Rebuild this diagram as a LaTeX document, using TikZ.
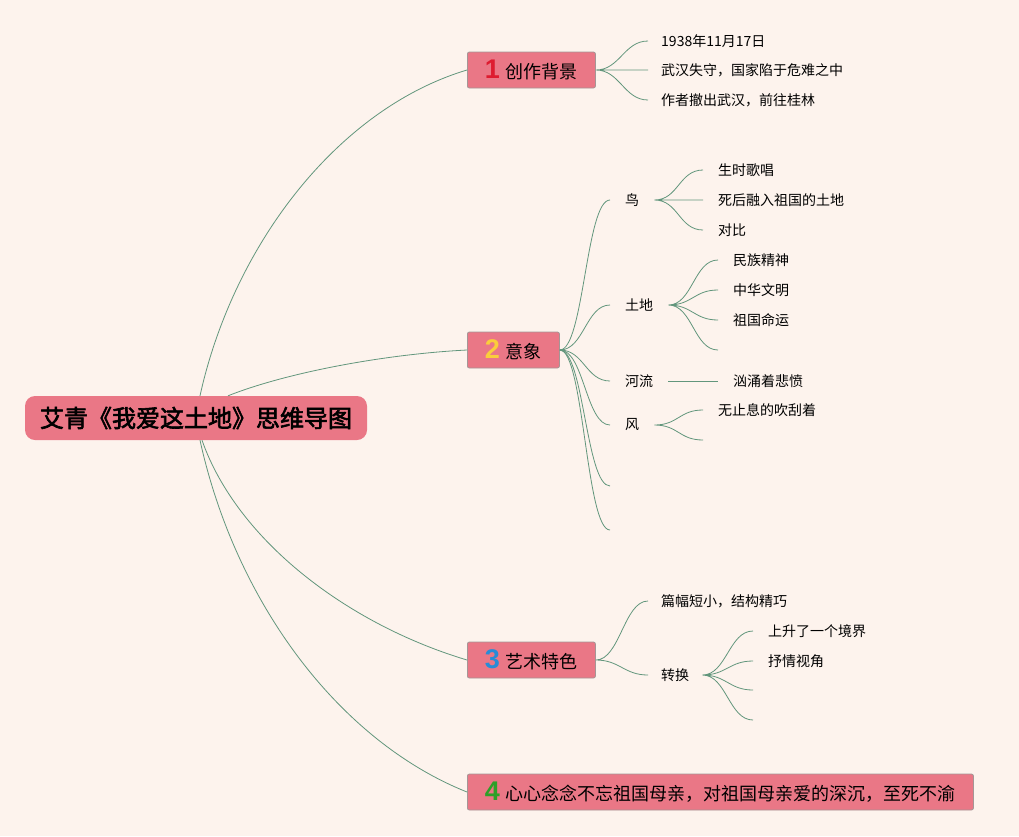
\documentclass[tikz,border=0pt]{standalone}
\usepackage{fontspec}
\usepackage{xcolor}
\usepackage{tikz}
\usetikzlibrary{positioning}
\setmainfont{Noto Sans CJK SC}
\newfontfamily\rootfont[FakeBold=2.5]{Noto Sans CJK SC}
\newfontfamily\numfont{Liberation Sans}
\definecolor{paper}{RGB}{253,243,237}
\definecolor{rosefill}{RGB}{234,119,134}
\definecolor{roseedge}{RGB}{165,150,150}
\definecolor{twigc}{RGB}{98,150,124}
\definecolor{numred}{RGB}{222,28,48}
\definecolor{numyellow}{RGB}{250,205,60}
\definecolor{numblue}{RGB}{40,140,215}
\definecolor{numgreen}{RGB}{45,160,40}
\newcommand{\bignum}[2]{{\numfont\bfseries\fontsize{27}{27}\selectfont\color{#1}#2}\hspace{6pt}}

\begin{document}
\begin{tikzpicture}[x=1pt, y=-1pt]
\tikzstyle{root}=[rounded corners=10pt, fill=rosefill, inner xsep=15pt, minimum height=44pt, font=\rootfont\fontsize{24}{24}\selectfont]
\tikzstyle{topic}=[anchor=west, rounded corners=2pt, draw=roseedge, line width=0.8pt, fill=rosefill, inner xsep=17.5pt, minimum height=36pt, font=\fontsize{18}{18}\selectfont]
\tikzstyle{leaf}=[anchor=west, inner xsep=15pt, inner ysep=2pt, font=\fontsize{14}{14}\selectfont]
\tikzstyle{trunk}=[draw=twigc, line width=0.8pt]
\tikzstyle{twig}=[draw=twigc, line width=0.8pt, to path={.. controls +(24,0) and +(-24,0) .. (\tikztotarget)}]
\fill[paper] (0,0) rectangle (1019,836);
\useasboundingbox (0,0) rectangle (1019,836);
\node[root] (root) at (196,418) {艾青《我爱这土地》思维导图};
\node[topic] (bg) at (467,70) {\bignum{numred}{1}创作背景};
\node[topic] (img) at (467,350) {\bignum{numyellow}{2}意象};
\node[topic] (art) at (467,660) {\bignum{numblue}{3}艺术特色};
\node[topic] (theme) at (467,792) {\bignum{numgreen}{4}心心念念不忘祖国母亲，对祖国母亲爱的深沉，至死不渝};
\draw[trunk] ([xshift=4pt]root.north) .. controls (233,246) and (337,109) .. (bg.west);
\draw[trunk] ([xshift=32pt]root.north) .. controls (288,372) and (387,354) .. (img.west);
\draw[trunk] ([xshift=6pt]root.south) .. controls (237,540) and (347,624) .. (art.west);
\draw[trunk] ([xshift=4pt]root.south) .. controls (235,600) and (337,740) .. (theme.west);
\node[leaf, inner xsep=13pt] (date) at (648,41) {1938年11月17日};
\node[leaf, inner xsep=13pt] (fall) at (648,70) {武汉失守，国家陷于危难之中};
\node[leaf, inner xsep=13pt] (leave) at (648,100) {作者撤出武汉，前往桂林};
\draw[twig] (bg.east) to (date.west) (bg.east) to (fall.west) (bg.east) to (leave.west);
\node[leaf] (bird) at (610,200) {鸟};
\node[leaf] (land) at (610,305) {土地};
\node[leaf] (river) at (610,381) {河流};
\node[leaf] (wind) at (610,425) {风};
\coordinate (img5) at (610,486);
\coordinate (img6) at (610,530);
\foreach \t in {bird.west, land.west, river.west, wind.west, img5, img6}
  \draw[twig] (img.east) to (\t);
\node[leaf] (sing) at (703,170) {生时歌唱};
\node[leaf] (melt) at (703,200) {死后融入祖国的土地};
\node[leaf] (contrast) at (703,230) {对比};
\draw[twig] (bird.east) to (sing.west) (bird.east) to (melt.west) (bird.east) to (contrast.west);
\node[leaf] (spirit) at (718,260) {民族精神};
\node[leaf] (culture) at (718,290) {中华文明};
\node[leaf] (fate) at (718,320) {祖国命运};
\coordinate (land4) at (718,350);
\draw[twig] (land.east) to (spirit.west) (land.east) to (culture.west) (land.east) to (fate.west) (land.east) to (land4);
\node[leaf] (grief) at (718,381) {汹涌着悲愤};
\draw[trunk] (river.east) -- (grief.west);
\node[leaf] (blow) at (703,410) {无止息的吹刮着};
\coordinate (wind2) at (703,440);
\draw[twig] (wind.east) to (blow.west) (wind.east) to (wind2);
\node[leaf, inner xsep=13pt] (short) at (648,601) {篇幅短小，结构精巧};
\node[leaf, inner xsep=13pt] (turn) at (648,675) {转换};
\draw[twig] (art.east) to (short.west) (art.east) to (turn.west);
\node[leaf] (rise) at (753,631) {上升了一个境界};
\node[leaf] (view) at (753,661) {抒情视角};
\coordinate (turn3) at (753,690);
\coordinate (turn4) at (753,720);
\draw[twig] (turn.east) to (rise.west) (turn.east) to (view.west) (turn.east) to (turn3) (turn.east) to (turn4);
\end{tikzpicture}
\end{document}
